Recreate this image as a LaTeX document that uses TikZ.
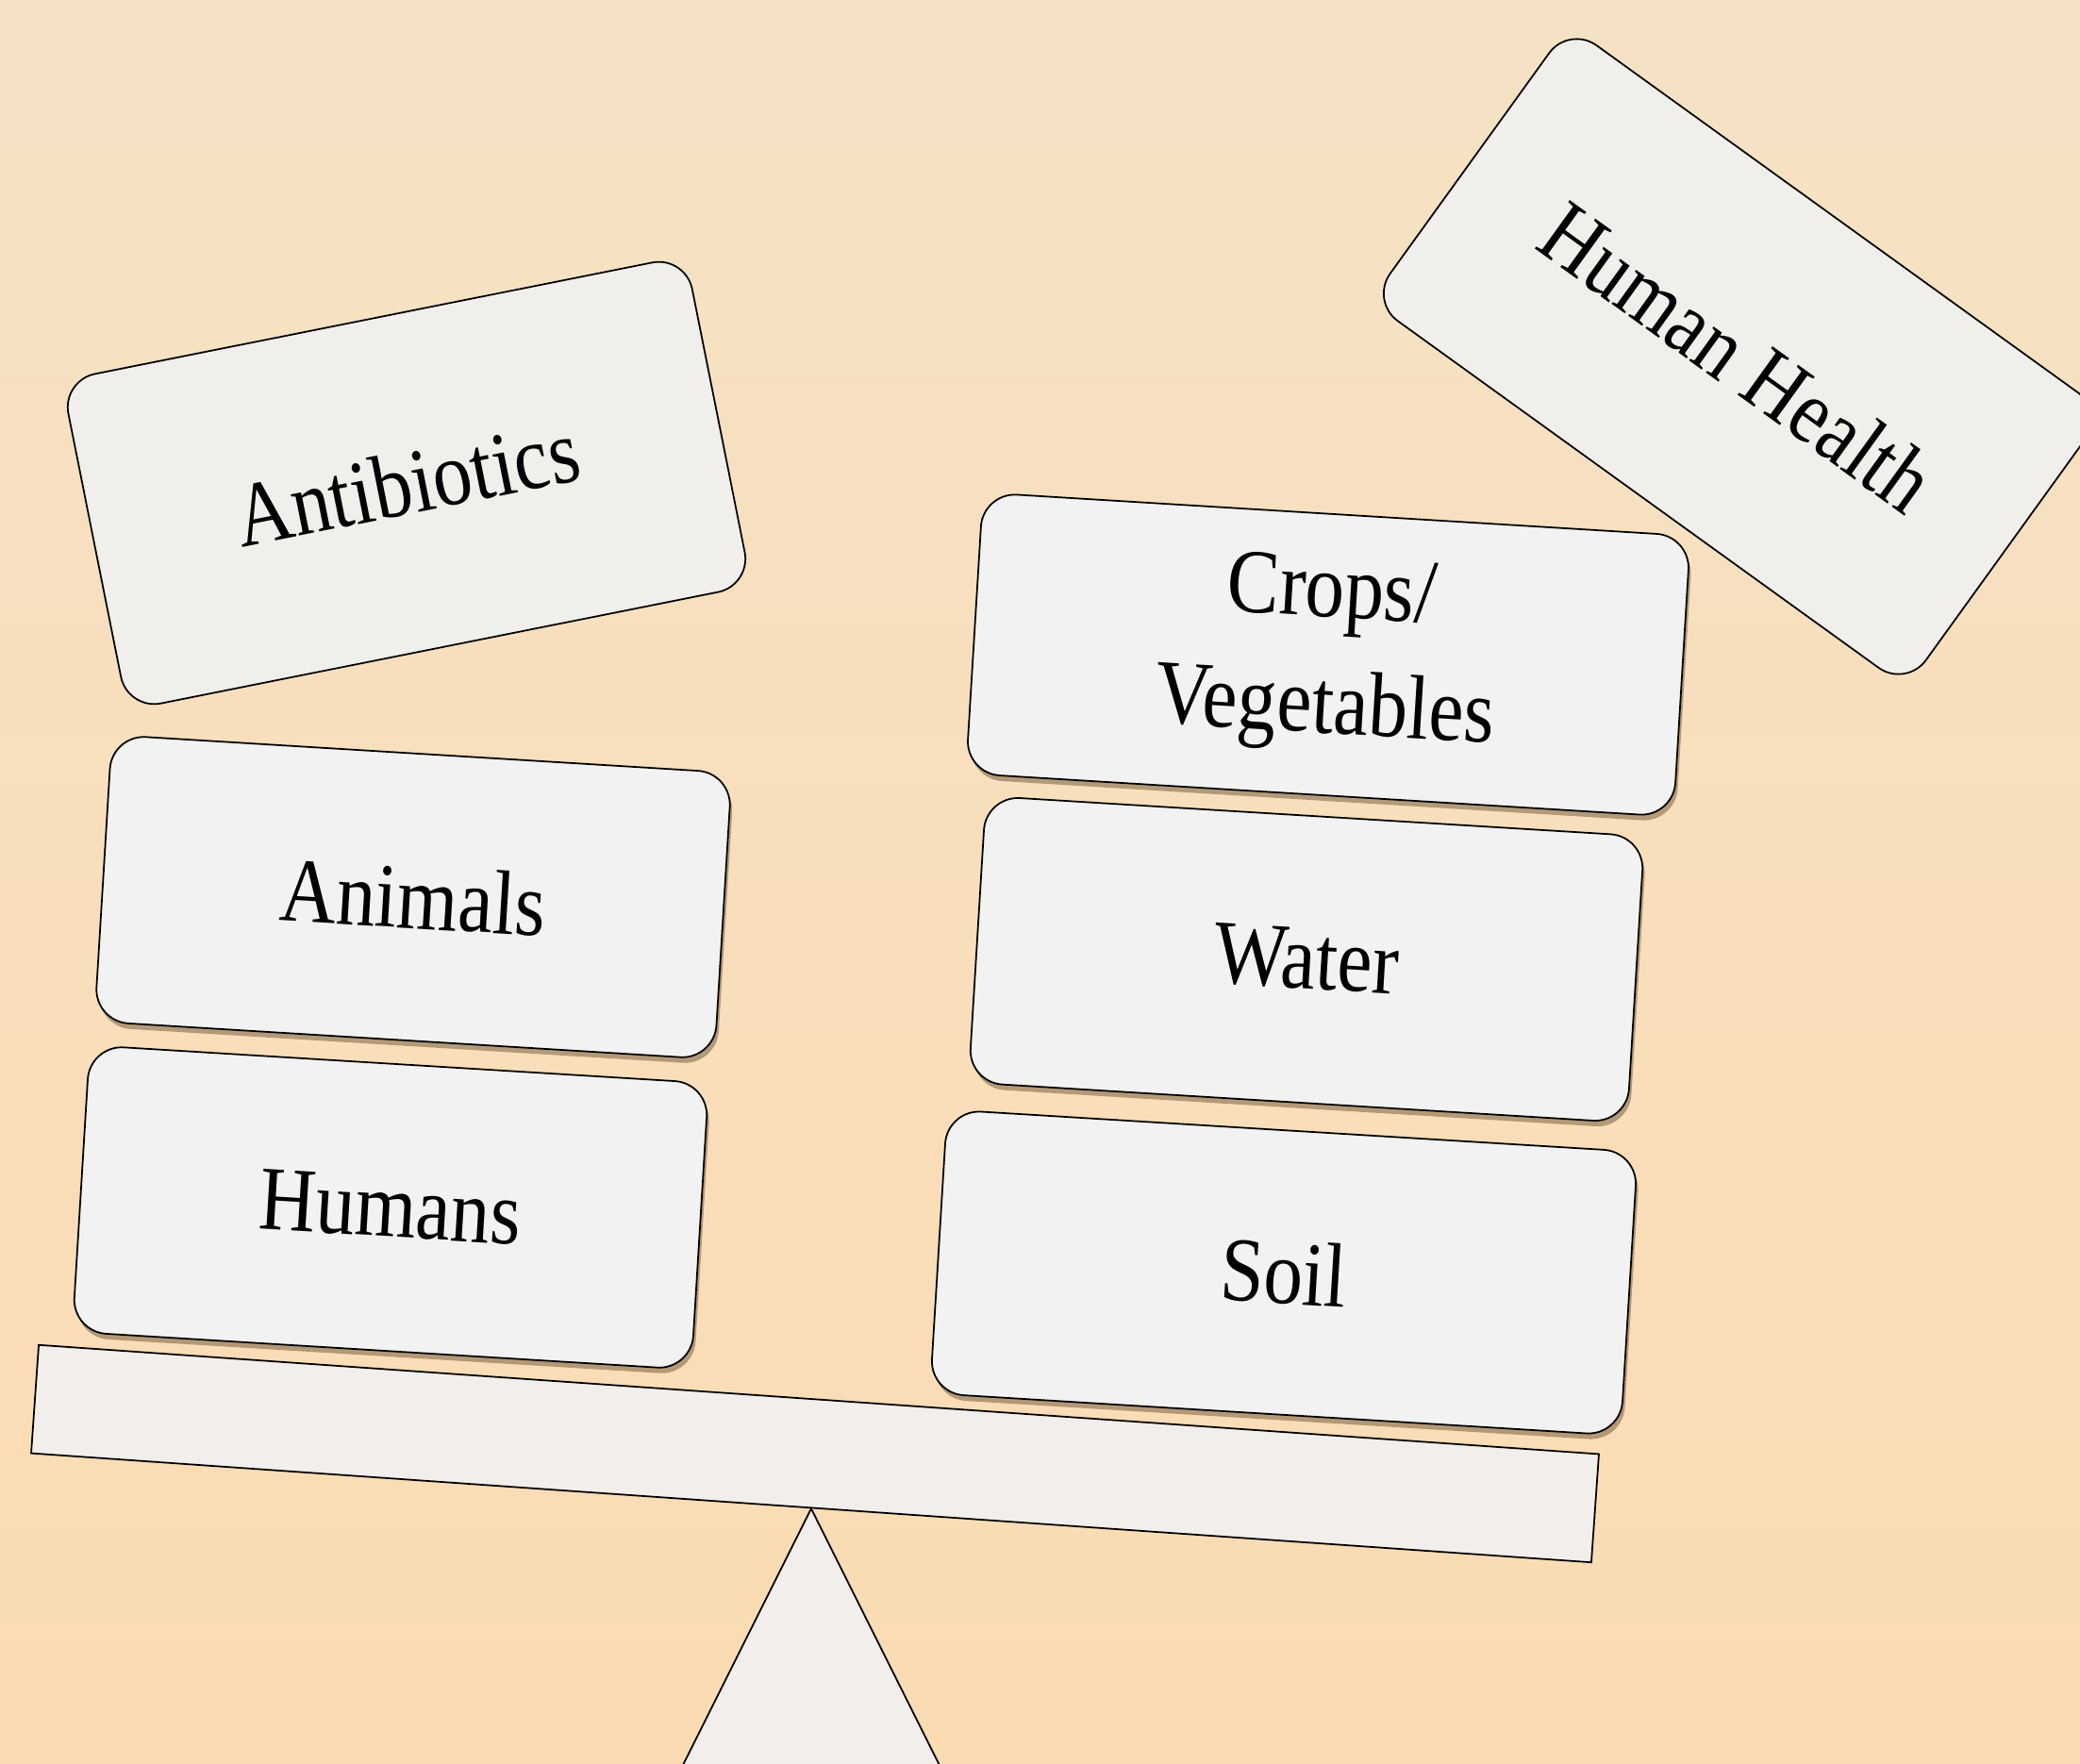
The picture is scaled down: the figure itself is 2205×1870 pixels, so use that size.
\documentclass[tikz,border=0pt]{standalone}
\usepackage{fontspec}
\setmainfont{Liberation Serif}
\usepackage{graphicx}
\usepackage{tikz}
\usetikzlibrary{shadows}

\definecolor{peachtop}{HTML}{F5E2C5}
\definecolor{peachbot}{HTML}{FBDBB2}
\definecolor{cardgray}{HTML}{F2F2F2}
\definecolor{cardwarm}{HTML}{F0EFEB}
\definecolor{plankgray}{HTML}{F2EEEB}
\definecolor{shadowtan}{HTML}{6E5535}

% labels are a bit narrow in the original
\newcommand{\sq}[1]{\scalebox{0.86}[1]{#1}}

\begin{document}
\begin{tikzpicture}[
    x=0.01cm, y=-0.01cm,
    every node/.style={font=\fontsize{27.5}{35}\selectfont},
    box/.style={rectangle, draw, line width=0.5pt, rounded corners=0.36cm, inner sep=0pt, align=center, minimum height=3.04cm},
    card/.style={box, fill=cardgray, drop shadow={shadow xshift=0.025cm, shadow yshift=-0.06cm, fill=shadowtan, opacity=0.5}},
    tag/.style={box, fill=cardwarm},
    plank/.style={rectangle, draw, line width=0.5pt, fill=plankgray, inner sep=0pt}
]
\useasboundingbox (0,0) rectangle (2205,1870);
\clip (0,0) rectangle (2205,1870);
\shade[top color=peachtop, bottom color=peachbot] (0,0) rectangle (2205,1870);

% seesaw
\node[plank, minimum width=16.57cm, minimum height=1.15cm, rotate=-4] (beam) at (864,1541) {};
\draw[line width=0.5pt, fill=plankgray] (beam.south) -- ++(-160,320) -- ++(320,0) -- cycle;

% left pan
\node[card, minimum width=6.57cm, rotate=-3.5] (humans) at (414,1280) {\sq{Humans}};
\node[card, minimum width=6.58cm, rotate=-3.5] (animals) at (438,951) {\sq{Animals}};
\node[tag, minimum width=6.74cm, minimum height=3.56cm, rotate=11.3] (antibiotics) at (431,512) {\sq{Antibiotics}};

% right pan
\node[card, minimum width=7.33cm, minimum height=3.01cm, rotate=-3.5] (soil) at (1361,1349) {\sq{Soil}};
\node[card, minimum width=6.99cm, rotate=-3.5] (water) at (1385,1017) {\sq{Water}};
\node[card, minimum width=7.51cm, minimum height=2.98cm, rotate=-3.5] (crops) at (1408,694) {\sq{Crops/}\\\sq{Vegetables}};
\node[tag, minimum width=7.0cm, minimum height=3.6cm, rotate=-35.8] (health) at (1842,378) {\sq{Human Health}};
\end{tikzpicture}
\end{document}
